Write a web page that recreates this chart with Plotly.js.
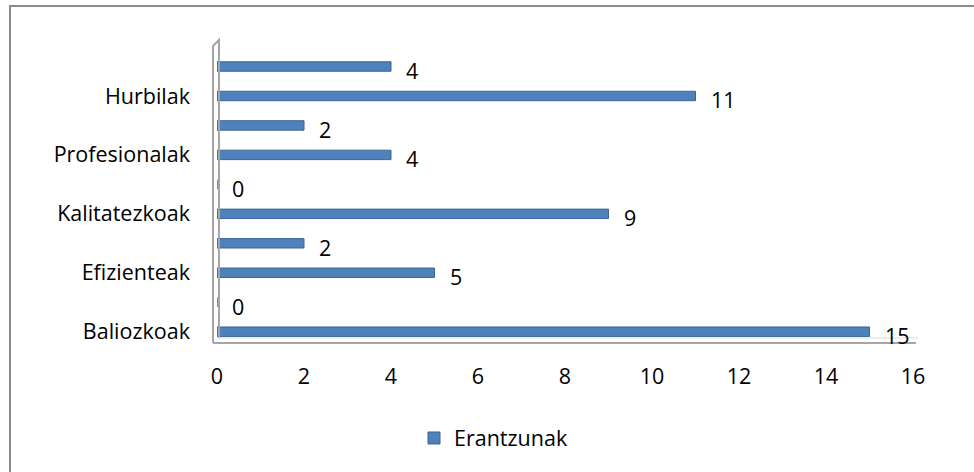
<!DOCTYPE html>
<html>
<head>
<meta charset="utf-8">
<script src="https://cdn.plot.ly/plotly-3.0.1.min.js"></script>
<style>
  html, body { margin: 0; padding: 0; background: #fff; }
  #chart { width: 974px; height: 472px; }
</style>
</head>
<body>
<div id="chart"></div>
<script>
// Category labels (only every other one is shown on the original axis)
const categories = ['Baliozkoak', '', 'Efizienteak', '', 'Kalitatezkoak', '', 'Profesionalak', '', 'Hurbilak', ''];
const values = [15, 0, 5, 2, 9, 0, 4, 2, 11, 4];
const seriesName = 'Erantzunak';
const xTicks = [0, 2, 4, 6, 8, 10, 12, 14, 16];

const positions = categories.map((c, i) => i);
const labeledPos = positions.filter(i => categories[i] !== '');
const labeledText = labeledPos.map(i => categories[i]);

// plot area in pixels
const L = 217, R = 913, T = 40, B = 342;
const W = 974, H = 472;
const px = x => (x - L) / (R - L);
const py = y => (B - y) / (B - T);

const FONT = '"Open Sans", "Noto Sans", sans-serif';
const FS = 21.5;

const trace = {
  type: 'bar',
  orientation: 'h',
  x: values,
  y: positions,
  name: seriesName,
  width: 0.32,
  marker: { color: '#4F81BD', line: { color: '#3B6494', width: 1 } },
  hoverinfo: 'x+y'
};

const annotations = values.map((v, i) => ({
  x: v, y: positions[i], xref: 'x', yref: 'y',
  text: String(v), showarrow: false,
  xanchor: 'left', yanchor: 'middle',
  xshift: 13, yshift: -4,
  font: { family: FONT, size: FS, color: '#000' }
}));

const gray = '#A6A6A6';
const shapes = [
  // 3D-ish wall of the category axis
  { type: 'path', xref: 'paper', yref: 'paper',
    path: `M ${px(213)} ${py(343)} L ${px(213)} ${py(46)} L ${px(219)} ${py(40)} L ${px(219)} ${py(338)}`,
    line: { color: gray, width: 2 }, fillcolor: 'rgba(0,0,0,0)' },
  // value axis base line
  { type: 'line', xref: 'paper', yref: 'paper',
    x0: px(213), x1: px(916), y0: py(343), y1: py(343),
    line: { color: gray, width: 2 } },
  { type: 'line', xref: 'paper', yref: 'paper',
    x0: px(219), x1: px(918), y0: py(338), y1: py(338),
    line: { color: '#D9D9D9', width: 1 } },
  // outer chart border (top and left; right/bottom cropped)
  { type: 'path', xref: 'paper', yref: 'paper',
    path: `M ${px(10)} ${py(475)} L ${px(10)} ${py(6)} L ${px(975)} ${py(6)}`,
    line: { color: '#8C8C8C', width: 2 }, fillcolor: 'rgba(0,0,0,0)' }
];

const layout = {
  width: W, height: H,
  margin: { l: L, r: W - R, t: T, b: H - B, pad: 0 },
  paper_bgcolor: '#fff', plot_bgcolor: 'rgba(0,0,0,0)',
  font: { family: FONT, size: FS, color: '#000' },
  showlegend: true,
  legend: {
    orientation: 'h', x: px(414), xanchor: 'left', y: py(438), yanchor: 'middle',
    font: { family: FONT, size: FS, color: '#000' }, itemwidth: 30
  },
  xaxis: {
    range: [0, 16], tickvals: xTicks, ticktext: xTicks.map(String),
    showgrid: false, zeroline: false, showline: false,
    ticks: '', ticklabelstandoff: 19, fixedrange: true
  },
  yaxis: {
    range: [-0.35, 9.9], tickvals: labeledPos, ticktext: labeledText,
    showgrid: false, zeroline: false, showline: false,
    ticks: '', ticklabelstandoff: 26, fixedrange: true
  },
  bargap: 0,
  annotations: annotations,
  shapes: shapes
};

Plotly.newPlot('chart', [trace], layout, { displayModeBar: false, staticPlot: true });
</script>
</body>
</html>
